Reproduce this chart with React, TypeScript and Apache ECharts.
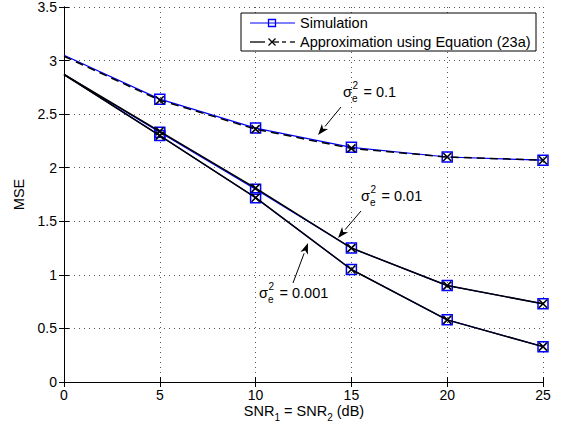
import React, { useEffect, useRef } from "react";
import * as echarts from "echarts";

const snr = [0, 5, 10, 15, 20, 25];
const simE01 = [3.05, 2.64, 2.37, 2.19, 2.1, 2.07];
const apxE01 = [3.04, 2.63, 2.36, 2.18, 2.1, 2.07];
const simE001 = [2.87, 2.33, 1.8, 1.25, 0.9, 0.73];
const apxE001 = [2.87, 2.34, 1.81, 1.25, 0.9, 0.73];
const simE0001 = [2.87, 2.3, 1.72, 1.05, 0.58, 0.33];
const apxE0001 = [2.87, 2.3, 1.72, 1.05, 0.58, 0.33];

const FONT = '"Liberation Sans", Arial, Helvetica, sans-serif';
const BLUE = "#0000ff";

function measure(t: string, size: number) {
  const c = document.createElement("canvas").getContext("2d") as CanvasRenderingContext2D;
  c.font = `${size}px "Liberation Sans"`;
  return c.measureText(t).width;
}

function txt(text: string, x: number, y: number, size: number, align = "left") {
  return {
    type: "text",
    style: {
      text,
      x,
      y,
      font: `${size}px ${FONT}`,
      fill: "#000",
      align,
      verticalAlign: "middle",
      textAlign: align,
      textVerticalAlign: "middle",
    },
    z: 100,
  };
}

function sigmaLabel(x: number, y: number, rest: string) {
  const s = 14.5;
  const ws = measure("σ", s);
  const we = measure("e", 10);
  return [
    txt("σ", x, y, s),
    txt("2", x + ws + 0.5, y - 7, 10),
    txt("e", x + ws, y + 6, 10),
    txt(rest, x + ws + we + 2, y, s),
  ];
}

function arrow(x1: number, y1: number, x2: number, y2: number) {
  const dx = x2 - x1;
  const dy = y2 - y1;
  const len = Math.sqrt(dx * dx + dy * dy);
  const ux = dx / len;
  const uy = dy / len;
  const hl = 11;
  const hw = 4;
  const bx = x2 - ux * hl;
  const by = y2 - uy * hl;
  return [
    { type: "line", shape: { x1, y1, x2: bx, y2: by }, style: { stroke: "#000", lineWidth: 1 }, z: 100 },
    {
      type: "polygon",
      shape: {
        points: [
          [x2, y2],
          [bx - uy * hw, by + ux * hw],
          [bx + ux * 3, by + uy * 3],
          [bx + uy * hw, by - ux * hw],
        ],
      },
      style: { fill: "#000" },
      z: 100,
    },
  ];
}

function mk(vals: number[], kind: "sim" | "apx", dashed = false) {
  const data = vals.map((v, i) => (i === 0 ? { value: [snr[i], v], symbol: "none" } : { value: [snr[i], v] }));
  if (kind === "sim") {
    return {
      type: "line",
      data,
      symbol: "rect",
      symbolSize: 10,
      lineStyle: { color: BLUE, width: 1.2 },
      itemStyle: { color: "rgba(0,0,0,0)", borderColor: BLUE, borderWidth: 1.5 },
      z: 3,
    };
  }
  return {
    type: "line",
    data,
    symbol: "path://M0,0L10,10M10,0L0,10",
    symbolSize: 8,
    lineStyle: { color: "#000", width: 1.5, type: dashed ? [8, 5] : "solid" },
    itemStyle: { color: "rgba(0,0,0,0)", borderColor: "#000", borderWidth: 1.6 },
    z: 4,
  };
}

export default function App() {
  const ref = useRef<HTMLDivElement>(null);
  useEffect(() => {
    if (!ref.current) return;
    const chart = echarts.init(ref.current, null, { renderer: "svg" });

    const parts: [string, number, number][] = [
      ["SNR", 14.5, 0],
      ["1", 10, 6],
      [" = SNR", 14.5, 0],
      ["2", 10, 6],
      [" (dB)", 14.5, 0],
    ];
    const total = parts.reduce((a, p) => a + measure(p[0], p[1]), 0);
    let cx = 304 - total / 2;
    const xlabel: any[] = [];
    parts.forEach((p) => {
      xlabel.push(txt(p[0], cx, 411 + p[2], p[1]));
      cx += measure(p[0], p[1]);
    });

    const legend: any[] = [
      { type: "rect", shape: { x: 241, y: 13, width: 295, height: 38 }, style: { fill: "#fff", stroke: "#000", lineWidth: 1 }, z: 90 },
      { type: "line", shape: { x1: 250, y1: 23, x2: 295, y2: 23 }, style: { stroke: BLUE, lineWidth: 1.2 }, z: 100 },
      { type: "rect", shape: { x: 268.5, y: 19.5, width: 7, height: 7 }, style: { fill: "none", stroke: BLUE, lineWidth: 1.3 }, z: 100 },
      txt("Simulation", 300, 23, 14.5),
      { type: "line", shape: { x1: 250, y1: 42, x2: 265, y2: 42 }, style: { stroke: "#000", lineWidth: 1.3 }, z: 100 },
      { type: "line", shape: { x1: 268.5, y1: 38.5, x2: 275.5, y2: 45.5 }, style: { stroke: "#000", lineWidth: 1.3 }, z: 100 },
      { type: "line", shape: { x1: 275.5, y1: 38.5, x2: 268.5, y2: 45.5 }, style: { stroke: "#000", lineWidth: 1.3 }, z: 100 },
      { type: "line", shape: { x1: 272, y1: 42, x2: 279, y2: 42 }, style: { stroke: "#000", lineWidth: 1.3 }, z: 100 },
      { type: "line", shape: { x1: 282, y1: 42, x2: 286, y2: 42 }, style: { stroke: "#000", lineWidth: 1.3 }, z: 100 },
      { type: "line", shape: { x1: 290, y1: 42, x2: 295, y2: 42 }, style: { stroke: "#000", lineWidth: 1.3 }, z: 100 },
      txt("Approximation using Equation (23a)", 300, 42, 14.5),
    ];

    const annotations: any[] = [
      ...sigmaLabel(343, 92, " = 0.1"),
      ...arrow(341, 107, 318, 135),
      ...sigmaLabel(361, 196, " = 0.01"),
      ...arrow(361, 211, 338, 238),
      ...sigmaLabel(259, 293, " = 0.001"),
      ...arrow(293, 283, 308, 243),
    ];

    const axisCommon = {
      type: "value",
      axisLine: { show: true, lineStyle: { color: "#000", width: 1 } },
      axisTick: { show: true, inside: true, length: 5, lineStyle: { color: "#000" } },
    };

    chart.setOption({
      animation: false,
      backgroundColor: "#fff",
      grid: { left: 64, right: 24, top: 5, bottom: 54, containLabel: false },
      xAxis: [
        {
          ...axisCommon,
          min: 0,
          max: 25,
          interval: 5,
          position: "bottom",
          axisLabel: { color: "#000", fontSize: 14, fontFamily: FONT, margin: 6 },
          splitLine: { show: true, lineStyle: { color: "#555", type: [1, 4], width: 1 } },
        },
        {
          ...axisCommon,
          min: 0,
          max: 25,
          interval: 5,
          position: "top",
          axisLabel: { show: false },
          splitLine: { show: false },
        },
      ],
      yAxis: [
        {
          ...axisCommon,
          min: 0,
          max: 3.5,
          interval: 0.5,
          position: "left",
          name: "MSE",
          nameLocation: "middle",
          nameGap: 32,
          nameTextStyle: { color: "#000", fontSize: 14.5, fontFamily: FONT },
          axisLabel: { color: "#000", fontSize: 14, fontFamily: FONT, margin: 7 },
          splitLine: { show: true, lineStyle: { color: "#555", type: [1, 4], width: 1 } },
        },
        {
          ...axisCommon,
          min: 0,
          max: 3.5,
          interval: 0.5,
          position: "right",
          axisLabel: { show: false },
          splitLine: { show: false },
        },
      ],
      series: [
        mk(simE01, "sim"),
        mk(simE001, "sim"),
        mk(simE0001, "sim"),
        mk(apxE01, "apx", true),
        mk(apxE001, "apx"),
        mk(apxE0001, "apx"),
      ],
      graphic: [...legend, ...annotations, ...xlabel],
    });
    return () => chart.dispose();
  }, []);
  return <div ref={ref} style={{ width: 567, height: 436, position: "absolute", left: 0, top: 0 }} />;
}
